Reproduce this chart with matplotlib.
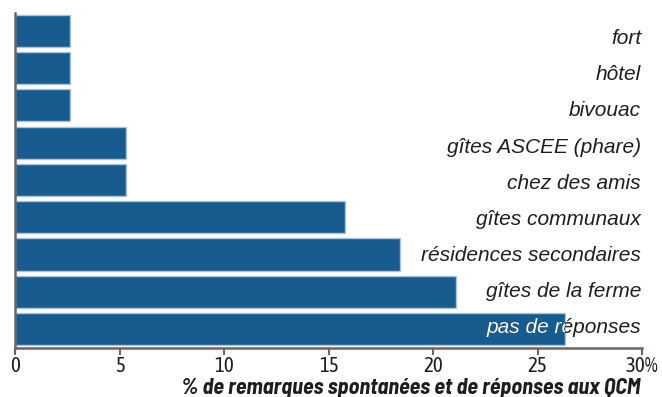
import numpy as np
import matplotlib
matplotlib.use('Agg')
import matplotlib.pyplot as plt

# modes d'hébergement, du haut vers le bas du graphique
hebergements = ['fort', 'hôtel', 'bivouac', 'gîtes ASCEE (phare)', 'chez des amis',
                'gîtes communaux', 'résidences secondaires', 'gîtes de la ferme',
                'pas de réponses']
# % de remarques spontanées et de réponses aux QCM
pourcentages = [2.6, 2.6, 2.6, 5.3, 5.3, 15.8, 18.4, 21.1, 26.3]

graduations = [0, 5, 10, 15, 20, 25, 30]
etiquettes_x = ['0', '5', '10', '15', '20', '25', '30%']
titre_x = '% de remarques spontanées et de réponses aux QCM'

BLEU = '#185b8f'
BORD = '#a9c4dd'
AXE = '#6e6462'
POLICE = ['Liberation Sans', 'DejaVu Sans']
POLICE_CHIFFRES = ['Asap Condensed', 'DejaVu Sans']
POLICE_TITRE = ['Barlow Semi Condensed', 'Asap Condensed', 'DejaVu Sans']

fig = plt.figure(figsize=(6.62, 3.97), dpi=100)
ax = fig.add_axes([0.0234, 0.1234, 0.9464, 0.8438])

pos = np.arange(len(hebergements))[::-1]
barres = ax.barh(pos, pourcentages, height=0.86, color=BLEU,
                 edgecolor=BORD, linewidth=1.0, zorder=2)

ax.set_xlim(0, 30)
ax.set_ylim(-0.51, 8.48)

# la colonne de libellés est un peu plus serrée que les barres
y_lib = -0.116 + 0.97 * pos

# libellés calés à droite ; la partie qui tombe sur une barre passe en blanc
for y, nom, barre in zip(y_lib, hebergements, barres):
    ax.text(29.95, y, nom, ha='right', va='baseline', fontsize=15,
            style='italic', family=POLICE, color='#1e1e1e', zorder=3)
    t = ax.text(29.95, y, nom, ha='right', va='baseline', fontsize=15,
                style='italic', family=POLICE, color='white', zorder=4,
                clip_on=True)
    t.set_clip_path(barre)

for cote in ['top', 'right']:
    ax.spines[cote].set_visible(False)
for cote in ['left', 'bottom']:
    ax.spines[cote].set_color(AXE)
    ax.spines[cote].set_linewidth(1.8)

ax.set_yticks([])
ax.set_xticks(graduations)
ax.set_xticklabels(etiquettes_x, family=POLICE_CHIFFRES)
ax.tick_params(axis='x', direction='out', length=5, width=1.5, color=AXE,
               labelsize=15, pad=1, labelcolor='#1e1e1e')

fig.text(640 / 662, 3 / 397, titre_x, ha='right', va='baseline', fontsize=16,
         weight='bold', style='italic', family=POLICE_TITRE, color='#1e1e1e')

fig.savefig('out.png', dpi=100)
